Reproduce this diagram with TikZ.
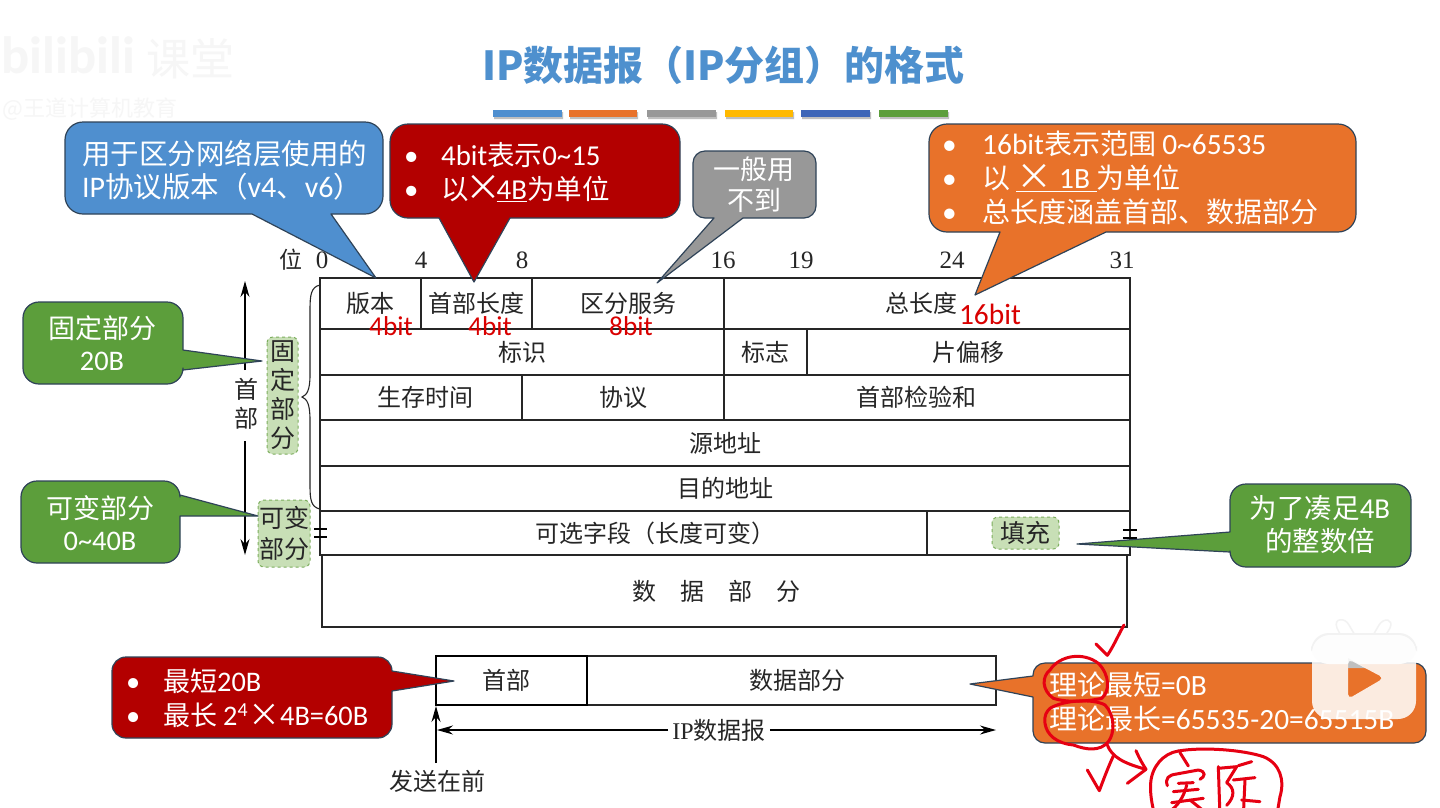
\documentclass[tikz,border=0pt]{standalone}
\usepackage{fontspec}
\setmainfont{Noto Sans CJK SC}
\newfontfamily\lat[Scale=1.05]{Carlito}
\newfontfamily\numf{Liberation Serif}
\usetikzlibrary{arrows.meta}
\definecolor{cblue}{HTML}{4F8FCF}
\definecolor{cred}{HTML}{B30000}
\definecolor{cgray}{HTML}{989898}
\definecolor{corange}{HTML}{E8722A}
\definecolor{cgreen}{HTML}{5C9E3B}
\definecolor{cedge}{HTML}{2F4358}
\definecolor{lgreen}{HTML}{C8DFB6}
\definecolor{dgreen}{HTML}{7DAE5E}
\definecolor{titlec}{HTML}{4E90CE}
\definecolor{txt}{HTML}{262626}
\definecolor{hand}{HTML}{E60012}
\definecolor{wm}{HTML}{F6F6F6}
\definecolor{baryellow}{HTML}{FFB900}
\definecolor{bardblue}{HTML}{3E66B8}
\newcommand\fsz[2]{\fontsize{#1pt}{#2pt}\selectfont}
\newcommand\X{{\fontsize{36pt}{28pt}\selectfont\raisebox{-1pt}{×}}}
\newcommand\bul{\makebox[37pt][l]{\lat •}}
\newcommand\cell[6]{\draw[cellline] (#2,#3) rectangle node[celltext] (#1) {#6} (#4,#5);}
\tikzset{
  x=1pt,y=-1pt,
  callout/.style={draw=cedge,line width=1.2pt,line join=round},
  calltext/.style={text=white,inner sep=0pt},
  cellline/.style={draw=txt,line width=1.2pt},
  celltext/.style={text=txt,inner sep=0pt,font=\fsz{24}{26}},
  bitno/.style={text=txt,inner sep=0pt,font=\fsz{25}{25}\numf},
  redbit/.style={text=red!85!black,inner sep=0pt,font=\fsz{26}{26}\lat},
  tag/.style={draw=dgreen,dashed,fill=lgreen,line width=1pt,rounded corners=6pt},
  bar/.style={draw=none},
  arr/.style={draw=black,line width=1.2pt,-{Stealth[length=16pt,width=9pt]}},
  plainline/.style={draw=black,line width=1.2pt},
  handline/.style={draw=hand,line width=3pt,line cap=round,line join=round},
}
\begin{document}
\begin{tikzpicture}
\useasboundingbox[fill=white] (0,0) rectangle (1440,807);
% watermarks
\node[text=wm,inner sep=0pt,font=\fsz{50}{50}\lat\bfseries] (wm1) at (68,55) {bilibili};
\node[text=wm,inner sep=0pt,font=\fsz{44}{44}] (wm2) at (190,59) {课堂};
\node[text=wm,inner sep=0pt,font=\fsz{22}{22},anchor=west] (wm3) at (2,109) {@王道计算机教育};
% title
\node[text=titlec,inner sep=0pt,font=\fsz{40}{40}\bfseries] (title) at (723.5,65) {IP数据报（IP分组）的格式};
\fill[bar,fill=black!25] (494,112) rectangle (563,119) (570,112) rectangle (638,119) (648,112) rectangle (717,119) (726,112) rectangle (794,119) (802,112) rectangle (871,119) (880,112) rectangle (949,119);
\fill[bar,fill=cblue] (493,110) rectangle (562,117);
\fill[bar,fill=corange] (569,110) rectangle (637,117);
\fill[bar,fill=cgray] (647,110) rectangle (716,117);
\fill[bar,fill=baryellow] (725,110) rectangle (793,117);
\fill[bar,fill=bardblue] (801,110) rectangle (870,117);
\fill[bar,fill=cgreen] (879,110) rectangle (948,117);
% table
\cell{ver}{320}{278}{421}{329}{版本}
\cell{ihl}{421}{278}{532}{329}{首部长度}
\cell{ds}{532}{278}{724}{329}{区分服务}
\cell{len}{724}{278}{1130}{329}{\hspace*{-12pt}总长度}
\cell{id}{320}{329}{724}{375}{标识}
\cell{flag}{724}{329}{807}{375}{标志}
\cell{frag}{807}{329}{1130}{375}{片偏移}
\cell{ttl}{320}{375}{522}{420}{\hspace*{8pt}生存时间}
\cell{proto}{522}{375}{724}{420}{协议}
\cell{chk}{724}{375}{1130}{420}{\hspace*{-22pt}首部检验和}
\cell{src}{320}{420}{1130}{466}{源地址}
\cell{dst}{320}{466}{1130}{511}{目的地址}
\cell{opt}{320}{511}{927}{555}{\hspace*{64pt}可选字段（长度可变）}
\cell{pad}{927}{511}{1130}{555}{}
\draw[draw=txt,line width=2.6pt] (320,278) rectangle (1130,555);
\draw[cellline] (322,555) rectangle node[celltext] (data) {\hspace*{-16pt}数\hspace{24pt}据\hspace{24pt}部\hspace{24pt}分} (1127,627);
% bit numbers
\node[text=txt,inner sep=0pt,font=\fsz{23}{23}] (wei) at (291,260) {位};
\node[bitno] (b0) at (322,260) {0};
\node[bitno] (b4) at (421,260) {4};
\node[bitno] (b8) at (522,260) {8};
\node[bitno] (b16) at (723,260) {16};
\node[bitno] (b19) at (801,260) {19};
\node[bitno] (b24) at (952,260) {24};
\node[bitno] (b31) at (1122,260) {31};
% header arrow and brace
\node[text=txt,inner sep=0pt,align=center,font=\fsz{24}{29}] (hdr) at (246,404) {首\\部};
\coordinate (ha) at (245,370); \coordinate (hat) at (245,281);
\coordinate (hb) at (245,441); \coordinate (hbt) at (245,555);
\draw[arr] (ha) -- (hat);
\draw[arr] (hb) -- (hbt);
\coordinate (brt) at (320,285); \coordinate (brb) at (320,509); \coordinate (brtip) at (302,397);
\draw[draw=txt,line width=1.1pt] (brt) .. controls (311,287) and (310,295) .. (310,310) -- (310,375) .. controls (310,390) and (307,395) .. (brtip) .. controls (307,399) and (310,404) .. (310,420) -- (310,485) .. controls (310,500) and (311,507) .. (brb);
% ticks
\coordinate (tl1a) at (314,529); \coordinate (tl1b) at (327,529);
\coordinate (tl2a) at (314,537); \coordinate (tl2b) at (327,537);
\coordinate (tr1a) at (1123,530); \coordinate (tr1b) at (1137,530);
\coordinate (tr2a) at (1123,538); \coordinate (tr2b) at (1137,538);
\draw[plainline] (tl1a) -- (tl1b) (tl2a) -- (tl2b) (tr1a) -- (tr1b) (tr2a) -- (tr2b);
% lower box
\draw[cellline] (587,656) rectangle node[celltext] (bdata) {\hspace*{12pt}数据部分} (996,705);
\draw[draw=black,line width=2.4pt] (436,656) rectangle node[celltext] (bhdr) {\hspace*{-10pt}首部} (587,705);
\node[fill=white,inner sep=4pt,text=txt,font=\fsz{24}{26}] (ipd) at (719,730) {{\numf IP}数据报};
\coordinate (ipr) at (996,730); \coordinate (ipl) at (437,730);
\draw[arr] (ipd) -- (ipr);
\draw[arr] (ipd) -- (ipl);
\node[text=txt,inner sep=0pt,font=\fsz{24}{26}] (send) at (437,781) {发送在前};
\coordinate (sendb) at (436,763); \coordinate (sendt) at (436,706);
\draw[arr] (sendb) -- (sendt);
% red labels
\node[redbit] (r1) at (391,326) {4bit};
\node[redbit] (r2) at (490,326) {4bit};
\node[redbit] (r3) at (631,326) {8bit};
\node[redbit,font=\fsz{28}{28}\lat] (r4) at (990,314) {16bit};
% dashed tags
\draw[tag] (267,337) rectangle (298,454);
\node[text=txt,inner sep=0pt,align=center,font=\fsz{25}{29}] (t1) at (283,395) {固\\定\\部\\分};
\draw[tag] (258,500) rectangle (310,567);
\node[text=txt,inner sep=0pt,align=center,font=\fsz{25}{31}] (t2) at (284,533) {可变\\部分};
\draw[tag] (992,517) rectangle (1059,549);
\node[text=txt,inner sep=0pt,font=\fsz{25}{25}] (t3) at (1025,533) {填充};
% callouts
\draw[callout,fill=cblue] (252,214) [rounded corners=18pt] -- (65,214) -- (65,122) -- (383,122) -- (383,214) [sharp corners] -- (331,214) -- (376,278) -- cycle;
\node[calltext,align=left,anchor=west,font=\fsz{28.5}{33}] (cb) at (82,170) {用于区分网络层使用的\\{\lat IP}协议版本（{\lat v4}、{\lat v6}）};
\draw[callout,fill=cred] (439,218) [rounded corners=18pt] -- (390,218) -- (390,124) -- (680,124) -- (680,218) [sharp corners] -- (510,218) -- (474,282) -- cycle;
\node[calltext,align=left,anchor=west,font=\fsz{27.5}{34}] (cr) at (404,172) {\bul{\lat 4bit}表示{\lat 0\textasciitilde 15}\\\bul 以\hspace{-3pt}\X\hspace{-5pt}{\lat\underline{4B}}为单位};
\draw[callout,fill=cgray] (714,218) [rounded corners=12pt] -- (693,218) -- (693,151) -- (816,151) -- (816,218) [sharp corners] -- (743,218) -- (657,283) -- cycle;
\node[calltext,align=center,font=\fsz{27}{31}] (cg) at (754,185) {一般用\\不到};
\draw[callout,fill=corange] (1000,232) [rounded corners=18pt] -- (929,232) -- (929,124) -- (1356,124) -- (1356,232) [sharp corners] -- (1106,232) -- (975,295) -- cycle;
\node[calltext,align=left,anchor=west,font=\fsz{28}{34}] (co) at (942,178) {\makebox[40pt][l]{\lat •}{\lat 16bit}表示范围 {\lat 0\textasciitilde 65535}\\\makebox[40pt][l]{\lat •}以 \underline{\X{\lat\ 1B }}为单位\\\makebox[40pt][l]{\lat •}总长度涵盖首部、数据部分};
\draw[callout,fill=cgreen] (183,350) [rounded corners=16pt] -- (183,302) -- (23,302) -- (23,384) -- (183,384) [sharp corners] -- (183,370) -- (262,361) -- cycle;
\node[calltext,align=center,font=\fsz{27}{32}] (cg1) at (102,343) {固定部分\\{\lat 20B}};
\draw[callout,fill=cgreen] (180,495) [rounded corners=16pt] -- (180,481) -- (21,481) -- (21,563) -- (180,563) [sharp corners] -- (180,516) -- (258,516) -- cycle;
\node[calltext,align=center,font=\fsz{27}{32}] (cg2) at (100,523) {可变部分\\{\lat 0\textasciitilde 40B}};
\draw[callout,fill=cgreen] (1230,532) [rounded corners=16pt] -- (1230,484) -- (1411,484) -- (1411,567) -- (1230,567) [sharp corners] -- (1230,552) -- (1077,544) -- cycle;
\node[calltext,align=center,font=\fsz{27.5}{33}] (cg3) at (1320,525) {为了凑足{\lat 4B}\\的整数倍};
\draw[callout,fill=cred] (392,671) [rounded corners=14pt] -- (392,657) -- (112,657) -- (112,738) -- (392,738) [sharp corners] -- (392,691) -- (454,681) -- cycle;
\node[calltext,align=left,anchor=west,font=\fsz{27}{34}] (cr2) at (126,698) {\makebox[37pt][l]{\lat •}最短{\lat 20B}\\\makebox[37pt][l]{\lat •}最长 {\lat 2\textsuperscript{4}}{\fontsize{32pt}{28pt}\selectfont\raisebox{-1pt}{×}}{\lat 4B=60B}};
\draw[callout,fill=corange] (1033,676) [rounded corners=12pt] -- (1033,663) -- (1426,663) -- (1426,743) -- (1033,743) [sharp corners] -- (1033,697) -- (970,684) -- cycle;
\node[calltext,align=left,anchor=west,font=\fsz{28}{34}] (co2) at (1049,702) {理论最短{\lat =0B}\\理论最长{\lat =65535-20=65515B}};
% handwriting
\begin{scope}[shift={(1030,620)},scale=0.3333]
\draw[handline] (198,72) -- (232,106) .. controls (250,80) and (265,45) .. (282,15);
\draw[handline] (60,150) .. controls (90,105) and (160,95) .. (205,130) .. controls (240,165) and (240,215) .. (215,235) .. controls (170,245) and (110,248) .. (70,235) .. controls (35,210) and (35,170) .. (60,150);
\draw[handline] (60,265) .. controls (100,240) and (190,235) .. (225,255) .. controls (255,285) and (255,340) .. (235,365) .. controls (210,395) and (170,390) .. (130,375) .. controls (80,370) and (50,345) .. (45,310) .. controls (42,285) and (50,275) .. (60,265);
\draw[handline] (232,375) .. controls (245,410) and (280,430) .. (348,448);
\draw[handline] (318,392) .. controls (330,420) and (340,435) .. (348,448) -- (292,490);
\draw[handline] (172,450) -- (208,512) .. controls (220,480) and (235,440) .. (250,408);
\draw[handline] (445,393) .. controls (400,400) and (365,440) .. (362,490) .. controls (360,520) and (365,550) .. (375,590);
\draw[handline] (445,393) .. controls (520,380) and (640,390) .. (700,410) .. controls (750,430) and (765,480) .. (750,530) -- (740,590);
\draw[handline] (450,398) -- (475,438);
\draw[handline] (412,497) .. controls (405,475) and (415,465) .. (440,462) -- (505,450) .. controls (530,455) and (525,470) .. (510,478);
\draw[handline] (445,490) -- (490,488);
\draw[handline] (430,515) -- (505,508);
\draw[handline] (470,495) .. controls (465,520) and (450,550) .. (425,570);
\draw[handline] (425,548) -- (520,535);
\draw[handline] (480,540) -- (530,580);
\draw[handline] (565,440) -- (570,590);
\draw[handline] (565,445) -- (620,440) -- (590,488) .. controls (615,505) and (615,530) .. (590,556);
\draw[handline] (625,437) -- (665,425);
\draw[handline] (610,480) -- (675,473);
\draw[handline] (645,480) -- (640,590);
\draw[handline] (635,540) -- (690,545);
\end{scope}
% play icon
\draw[draw=black!5,line width=1.5pt,fill=white,fill opacity=0.95] (1342,638) -- (1337,628) .. controls (1333,618) and (1345,617) .. (1349,625) -- (1356,637) -- (1372,637) -- (1379,625) .. controls (1384,617) and (1394,619) .. (1390,628) -- (1384,638);
\fill[black!5,rounded corners=18pt] (1311,633) rectangle (1417,664);
\fill[black!25] (1348,658) -- (1366,668) -- (1348,668) -- cycle;
\fill[white,opacity=0.86,even odd rule,rounded corners=18pt] (1312,635) rectangle (1416,719) [rounded corners=5pt] (1348,659) -- (1384,678) -- (1348,699) -- cycle;
\end{tikzpicture}
\end{document}
